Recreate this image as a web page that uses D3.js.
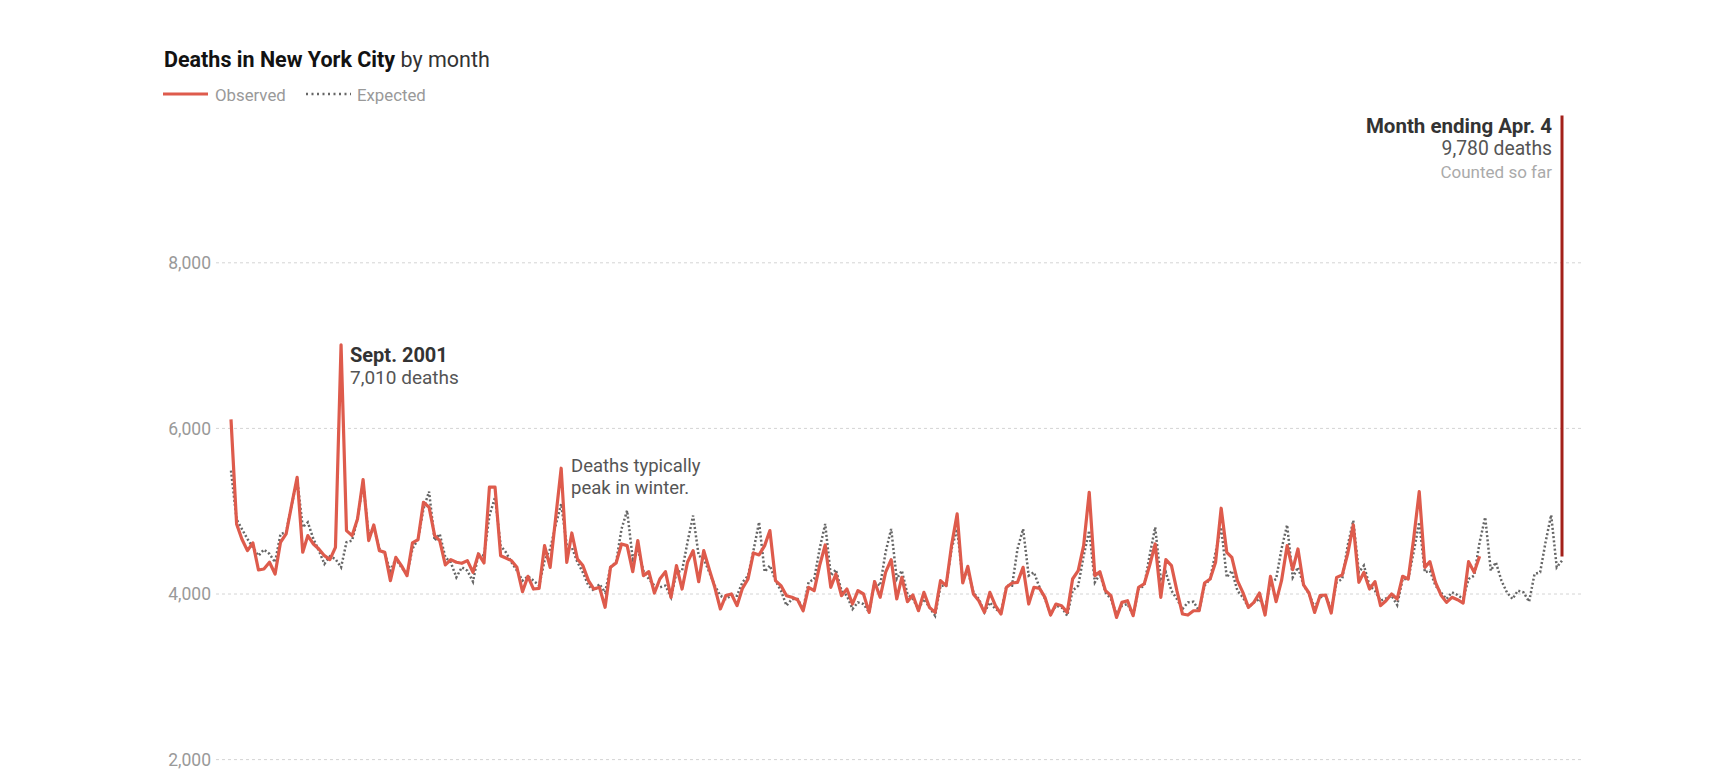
<!DOCTYPE html>
<html>
<head>
<meta charset="utf-8">
<script src="https://cdn.jsdelivr.net/npm/d3@7"></script>
<style>
   body { margin: 0; background: #fff; font-family: Roboto, "Liberation Sans", sans-serif; }
</style>
</head>
<body>
<div id="chart"></div>
<script>
// monthly values, first month is Jan 2000
const startDate = new Date(2000, 0, 1);

const observed = [
   6110, 4846, 4665, 4524, 4617, 4290, 4302, 4383, 4242, 4625, 4725, 5068,
   5410, 4504, 4705, 4604, 4544, 4463, 4415, 4564, 7010, 4766, 4705, 4907,
   5382, 4645, 4834, 4524, 4504, 4161, 4443, 4343, 4222, 4617, 4657, 5108,
   5048, 4705, 4645, 4351, 4415, 4383, 4371, 4403, 4262, 4484, 4375, 5290,
   5290, 4463, 4435, 4403, 4322, 4028, 4214, 4060, 4068, 4584, 4322, 4907,
   5519, 4383, 4737, 4423, 4343, 4161, 4060, 4081, 3839, 4322, 4375, 4604,
   4584, 4270, 4645, 4222, 4270, 4012, 4181, 4270, 3960, 4343, 4060, 4383,
   4524, 4149, 4524, 4294, 4081, 3819, 3980, 4000, 3859, 4068, 4181, 4496,
   4472, 4584, 4766, 4161, 4101, 3980, 3960, 3931, 3798, 4081, 4040, 4343,
   4592, 4081, 4242, 3980, 4060, 3879, 4040, 4000, 3778, 4149, 3960, 4262,
   4415, 3940, 4201, 3907, 3988, 3798, 4020, 3839, 3778, 4161, 4101, 4584,
   4967, 4133, 4334, 4000, 3919, 3778, 4020, 3859, 3758, 4081, 4133, 4141,
   4322, 3879, 4081, 4068, 3960, 3746, 3879, 3859, 3778, 4181, 4282, 4584,
   5229, 4222, 4270, 4040, 3980, 3718, 3899, 3919, 3738, 4081, 4121, 4343,
   4604, 3960, 4415, 4343, 4040, 3758, 3746, 3798, 3798, 4133, 4181, 4383,
   5036, 4504, 4443, 4161, 4020, 3839, 3899, 4012, 3746, 4214, 3907, 4161,
   4584, 4294, 4544, 4110, 4012, 3778, 3980, 3988, 3770, 4201, 4230, 4484,
   4834, 4141, 4262, 4060, 4149, 3859, 3919, 4000, 3940, 4214, 4181, 4665,
   5237, 4322, 4391, 4141, 3988, 3899, 3960, 3931, 3891, 4391, 4262, 4455
];

const expected = [
   5491, 4900, 4786, 4665, 4564, 4463, 4536, 4484, 4383, 4725, 4745, 5068,
   5390, 4806, 4866, 4665, 4524, 4363, 4455, 4423, 4322, 4625, 4645, 4907,
   5350, 4705, 4806, 4544, 4484, 4282, 4423, 4322, 4242, 4544, 4665, 5028,
   5237, 4645, 4725, 4443, 4383, 4201, 4322, 4282, 4149, 4484, 4463, 4947,
   5169, 4584, 4504, 4383, 4282, 4161, 4214, 4161, 4101, 4403, 4544, 4826,
   5088, 4584, 4564, 4383, 4262, 4101, 4040, 4121, 4020, 4322, 4383, 4786,
   5008, 4423, 4544, 4282, 4181, 4101, 4081, 4101, 3960, 4262, 4282, 4625,
   4947, 4463, 4423, 4262, 4101, 3980, 3940, 3980, 3980, 4141, 4222, 4524,
   4867, 4270, 4343, 4161, 4040, 3860, 3940, 3940, 3819, 4141, 4181, 4544,
   4846, 4222, 4294, 4040, 3980, 3819, 3899, 3879, 3778, 4141, 4101, 4504,
   4786, 4181, 4282, 4000, 3940, 3819, 3940, 3839, 3738, 4101, 4101, 4544,
   4786, 4181, 4282, 4020, 3940, 3778, 3899, 3819, 3778, 4101, 4101, 4544,
   4786, 4222, 4262, 4080, 3940, 3758, 3859, 3839, 3738, 4040, 4101, 4463,
   4766, 4141, 4242, 4020, 3940, 3758, 3859, 3879, 3738, 4060, 4101, 4463,
   4806, 4181, 4262, 4040, 3940, 3819, 3899, 3907, 3798, 4101, 4181, 4504,
   4806, 4201, 4282, 4040, 3960, 3839, 3899, 3940, 3819, 4141, 4181, 4544,
   4834, 4201, 4322, 4110, 4000, 3839, 3960, 3980, 3819, 4141, 4181, 4584,
   4887, 4262, 4343, 4101, 4040, 3919, 3948, 3980, 3867, 4181, 4181, 4504,
   4867, 4262, 4282, 4101, 4020, 3940, 4020, 3988, 3940, 4181, 4222, 4625,
   4927, 4282, 4383, 4161, 4020, 3940, 4040, 4020, 3907, 4242, 4262, 4625,
   4955, 4322, 4403
];

const latestDate = new Date(2020, 2, 1);
const latestValue = 9780;

const yTicks = [2000, 4000, 6000, 8000];

const width = 1731;
const height = 779;

const svg = d3.select("#chart")
   .append("svg")
   .attr("width", width)
   .attr("height", height);

const x = d3.scaleTime()
   .domain([startDate, latestDate])
   .range([231, 1562]);

const y = d3.scaleLinear()
   .domain([2000, 8000])
   .range([759.6, 262.8]);

const monthOf = i => d3.timeMonth.offset(startDate, i);

// grid + labels
const grid = svg.append("g").attr("class", "grid");
grid.selectAll("line")
   .data(yTicks)
   .enter()
   .append("line")
   .attr("x1", 216)
   .attr("x2", 1581)
   .attr("y1", d => y(d))
   .attr("y2", d => y(d))
   .attr("stroke", "#d4d4d4")
   .attr("stroke-width", 1)
   .attr("stroke-dasharray", "3,3");

grid.selectAll("text")
   .data(yTicks)
   .enter()
   .append("text")
   .attr("x", 211)
   .attr("y", d => y(d))
   .attr("dy", "0.35em")
   .attr("text-anchor", "end")
   .attr("fill", "#999")
   .style("font-size", "17.5px")
   .text(d => d3.format(",")(d));

const line = d3.line()
   .x((d, i) => x(monthOf(i)))
   .y(d => y(d));

svg.append("path")
   .datum(expected)
   .attr("fill", "none")
   .attr("stroke", "#666")
   .attr("stroke-width", 2.5)
   .attr("stroke-dasharray", "2,2.2")
   .attr("d", line);

svg.append("path")
   .datum(observed)
   .attr("fill", "none")
   .attr("stroke", "#de5b4c")
   .attr("stroke-width", 3.2)
   .attr("stroke-linejoin", "round")
   .attr("d", line);

// latest partial month
svg.append("line")
   .attr("x1", x(latestDate))
   .attr("x2", x(latestDate))
   .attr("y1", y(expected[expected.length - 1] + 50))
   .attr("y2", y(latestValue))
   .attr("stroke", "#a3201a")
   .attr("stroke-width", 3);

// title
const title = svg.append("text")
   .attr("x", 164)
   .attr("y", 67)
   .style("font-size", "21.5px")
   .attr("fill", "#121212");
title.append("tspan").attr("font-weight", "bold").text("Deaths in New York City");
title.append("tspan").attr("fill", "#333").text(" by month");

// legend
const legend = svg.append("g").style("font-size", "16.8px").attr("fill", "#999");
legend.append("line")
   .attr("x1", 163).attr("x2", 208).attr("y1", 94).attr("y2", 94)
   .attr("stroke", "#de5b4c").attr("stroke-width", 3);
legend.append("text").attr("x", 215).attr("y", 101).text("Observed");
legend.append("line")
   .attr("x1", 306).attr("x2", 351).attr("y1", 94).attr("y2", 94)
   .attr("stroke", "#666").attr("stroke-width", 2.5).attr("stroke-dasharray", "2,3.5");
legend.append("text").attr("x", 357).attr("y", 101).text("Expected");

// annotations
const sept = svg.append("g");
sept.append("text").attr("x", 350).attr("y", 362)
   .style("font-size", "20px")
   .attr("font-weight", "bold").attr("fill", "#333").text("Sept. 2001");
sept.append("text").attr("x", 350).attr("y", 384)
   .style("font-size", "19px")
   .attr("fill", "#555").text("7,010 deaths");

const winter = svg.append("g").style("font-size", "18.5px").attr("fill", "#555");
winter.append("text").attr("x", 571).attr("y", 472).text("Deaths typically");
winter.append("text").attr("x", 571).attr("y", 494).text("peak in winter.");

const latest = svg.append("g").attr("text-anchor", "end");
latest.append("text").attr("x", 1552).attr("y", 133)
   .style("font-size", "20.5px").attr("font-weight", "bold").attr("fill", "#333")
   .text("Month ending Apr. 4");
latest.append("text").attr("x", 1552).attr("y", 155)
   .style("font-size", "19.3px").attr("fill", "#555").text("9,780 deaths");
latest.append("text").attr("x", 1552).attr("y", 178)
   .style("font-size", "17px").attr("fill", "#aaa").text("Counted so far");
</script>
</body>
</html>
